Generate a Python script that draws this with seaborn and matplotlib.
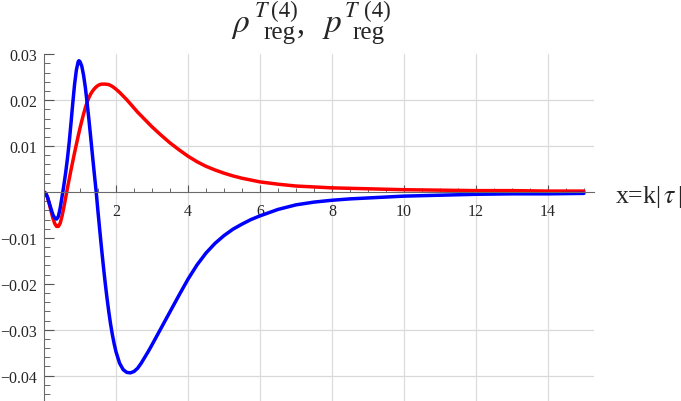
import numpy as np
import pandas as pd
import matplotlib
matplotlib.use("Agg")
import matplotlib.pyplot as plt
import seaborn as sns
from matplotlib.ticker import FixedLocator, FuncFormatter

# rho_reg (red)
x_rho = [0.00, 0.05, 0.10, 0.15, 0.20, 0.25, 0.30, 0.35, 0.40, 0.45, 0.50, 0.55,
         0.60, 0.65, 0.70, 0.75, 0.80, 0.85, 0.90, 0.95, 1.00, 1.05, 1.10, 1.15,
         1.20, 1.25, 1.30, 1.35, 1.40, 1.45, 1.50, 1.55, 1.60, 1.65, 1.70, 1.80,
         1.90, 2.00, 2.10, 2.20, 2.30, 2.40, 2.50, 2.60, 2.70, 2.80, 2.90, 3.00,
         3.25, 3.50, 3.75, 4.00, 4.25, 4.50, 4.75, 5.00, 5.25, 5.50, 5.75, 6.00,
         6.50, 7.00, 7.50, 8.00, 8.50, 9.00, 9.50, 10.0, 11.0, 12.0, 13.0, 14.0, 15.0]
y_rho = [0.0000, -0.0003, -0.0012, -0.0027, -0.0043, -0.0058, -0.0069, -0.0075,
         -0.0075, -0.0068, -0.0053, -0.0034, -0.0013, 0.0008, 0.0028, 0.0048,
         0.0067, 0.0086, 0.0104, 0.0122, 0.0139, 0.0155, 0.0170, 0.0184, 0.0196,
         0.0206, 0.0214, 0.0220, 0.0225, 0.0229, 0.0232, 0.0234, 0.0235, 0.0235,
         0.0235, 0.0234, 0.0230, 0.0224, 0.0217, 0.0209, 0.0201, 0.0192, 0.0183,
         0.0174, 0.0166, 0.0158, 0.0150, 0.0142, 0.0124, 0.0107, 0.0092, 0.0078,
         0.0066, 0.0056, 0.0048, 0.0041, 0.0035, 0.0030, 0.0026, 0.0022, 0.0017,
         0.0013, 0.0011, 0.0009, 0.0008, 0.0007, 0.0006, 0.0005, 0.0004, 0.0003,
         0.0003, 0.0002, 0.0002]

# p_reg (blue)
x_p = [0.00, 0.05, 0.10, 0.15, 0.20, 0.25, 0.30, 0.35, 0.40, 0.45, 0.50, 0.55,
       0.60, 0.65, 0.70, 0.75, 0.80, 0.85, 0.90, 0.95, 0.97, 1.00, 1.05, 1.10,
       1.15, 1.20, 1.25, 1.30, 1.35, 1.40, 1.45, 1.50, 1.55, 1.60, 1.65, 1.70,
       1.75, 1.80, 1.85, 1.90, 1.95, 2.00, 2.10, 2.20, 2.30, 2.40, 2.50, 2.60,
       2.70, 2.80, 2.90, 3.00, 3.25, 3.50, 3.75, 4.00, 4.25, 4.50, 4.75, 5.00,
       5.25, 5.50, 5.75, 6.00, 6.50, 7.00, 7.50, 8.00, 8.50, 9.00, 9.50, 10.0,
       11.0, 12.0, 13.0, 14.0, 15.0]
y_p = [0.0000, -0.0003, -0.0012, -0.0025, -0.0038, -0.0050, -0.0057, -0.0059,
       -0.0053, -0.0035, -0.0011, 0.0014, 0.0041, 0.0072, 0.0108, 0.0150, 0.0194,
       0.0235, 0.0266, 0.0284, 0.0286, 0.0284, 0.0274, 0.0254, 0.0227, 0.0193,
       0.0156, 0.0117, 0.0077, 0.0038, 0.0000, -0.0043, -0.0084, -0.0124,
       -0.0162, -0.0198, -0.0231, -0.0261, -0.0288, -0.0311, -0.0331, -0.0348,
       -0.0373, -0.0387, -0.0393, -0.0394, -0.0391, -0.0384, -0.0373, -0.0360,
       -0.0347, -0.0333, -0.0297, -0.0261, -0.0225, -0.0190, -0.0159, -0.0133,
       -0.0112, -0.0095, -0.0081, -0.0070, -0.0060, -0.0052, -0.0038, -0.0028,
       -0.0022, -0.0018, -0.0015, -0.0013, -0.0011, -0.0009, -0.0007, -0.0005,
       -0.0004, -0.0004, -0.0003]

x_major = [2, 4, 6, 8, 10, 12, 14]
y_major = [-0.04, -0.03, -0.02, -0.01, 0.01, 0.02, 0.03]
y_grid = [-0.04, -0.03, 0.01, 0.02]

df = pd.concat([
    pd.DataFrame({"x": x_rho, "y": y_rho, "curve": "rho"}),
    pd.DataFrame({"x": x_p, "y": y_p, "curve": "p"}),
])

sns.set_style("white")
plt.rcParams["font.family"] = ["Liberation Serif", "DejaVu Serif"]
plt.rcParams["mathtext.fontset"] = "stix"

fig = plt.figure(figsize=(6.81, 4.02), dpi=100)
ax = fig.add_axes([44 / 681, 0, 550 / 681, 348 / 402])

sns.lineplot(data=df, x="x", y="y", hue="curve", palette={"rho": "#ff0000", "p": "#0000ff"},
             hue_order=["rho", "p"], sort=False, estimator=None, linewidth=2.5,
             legend=False, ax=ax)

ax.set_xlim(0, 15.28)
ax.set_ylim(-0.04553, 0.03028)

for s in ["top", "right"]:
    ax.spines[s].set_visible(False)
ax.spines["bottom"].set_position(("data", 0))
for s in ["left", "bottom"]:
    ax.spines[s].set_color("#6a6a6a")
    ax.spines[s].set_linewidth(0.8)
ax.spines["left"].set_bounds(-0.04553, 0.03)

ax.xaxis.set_major_locator(FixedLocator(x_major))
ax.xaxis.set_minor_locator(FixedLocator([v for v in np.arange(0.5, 15.01, 0.5) if v not in x_major]))
ax.yaxis.set_major_locator(FixedLocator(y_major))
ax.yaxis.set_minor_locator(FixedLocator([v for v in np.round(np.arange(-0.044, 0.0301, 0.002), 3)
                                         if v not in y_major and v != 0]))
ax.xaxis.set_major_formatter(FuncFormatter(lambda v, p: f"{v:g}"))
ax.yaxis.set_major_formatter(FuncFormatter(lambda v, p: f"{v:.2f}".replace("-", "\u2212")))

ax.tick_params(bottom=True, left=True, which="both")
ax.tick_params(axis="x", which="major", direction="in", length=5, width=0.8, color="#555555",
               labelsize=11.5, pad=8)
ax.tick_params(axis="x", which="minor", direction="in", length=3, width=0.7, color="#666666")
ax.tick_params(axis="y", which="major", direction="in", length=7, width=0.8, color="#555555",
               labelsize=11.5, pad=5)
ax.tick_params(axis="y", which="minor", direction="in", length=4, width=0.7, color="#666666")

# gridlines
for v in x_major:
    ax.axvline(v, color="#dddddd", linewidth=0.9, zorder=0, ymax=(0.03 + 0.04553) / (0.03028 + 0.04553))
for v in y_grid:
    ax.axhline(v, color="#d9d9d9", linewidth=0.9, zorder=0)

ax.set_xlabel("")
ax.set_ylabel("")
ax.set_facecolor("white")

fig.text(615 / 681, 1 - 203 / 402, r"x=k|$\,\tau\,$|", fontsize=18.5, va="baseline", ha="left")


def put(px, py, s, size):
    fig.text(px / 681, 1 - py / 402, s, fontsize=size, va="baseline", ha="left")


# title  rho^{T (4)}_{reg},  p^{T (4)}_{reg}
put(231, 32, r"$\rho$", 24)
put(254, 17, r"$T$", 16)
put(271, 17, "(4)", 16.5)
put(263, 39, "reg", 18)
put(297, 33, ",", 23)
put(322, 32, r"$p$", 24)
put(344, 17, r"$T$", 16)
put(364, 17, "(4)", 16.5)
put(352, 39, "reg", 18)

fig.savefig("out.png", dpi=100)
